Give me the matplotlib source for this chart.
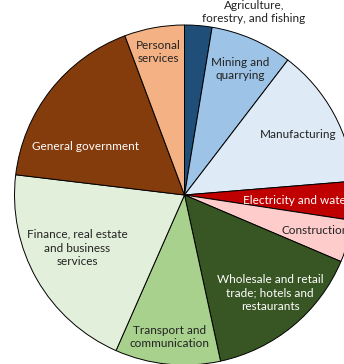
import matplotlib.pyplot as plt

sectors = ['Agriculture,\nforestry, and fishing', 'Mining and\nquarrying', 'Manufacturing',
           'Electricity and water', 'Construction',
           'Wholesale and retail\ntrade; hotels and\nrestaurants',
           'Transport and\ncommunication', 'Finance, real estate\nand business\nservices',
           'General government', 'Personal\nservices']
shares = [2.6, 7.8, 13.3, 3.7, 4.0, 15.2, 10.0, 20.3, 17.4, 5.7]

colors = ['#1F4E79', '#9DC3E6', '#DEEBF7', '#C00000', '#FFCCCC',
          '#375623', '#A9D18E', '#E2EFDA', '#843C0C', '#F4B183']
text_colors = ['#222222', '#222222', '#222222', 'white', '#222222',
               'white', '#222222', '#222222', 'white', '#222222']
# label centres in pixel coords (x, y from top)
label_pos = [(254, 12), (240, 69), (298, 134), (297, 200), (315, 230),
             (270, 293), (170, 337), (77, 248), (85, 147), (158, 52)]

W, H = 344, 364
fig = plt.figure(figsize=(W / 100, H / 100), dpi=100)
ax = fig.add_axes([0, 0, 1, 1])
ax.pie(shares, colors=colors, startangle=90, counterclock=False,
       radius=170, center=(184.5, H - 195),
       wedgeprops=dict(edgecolor='black', linewidth=0.7))
ax.set_xlim(0, W)
ax.set_ylim(0, H)
ax.set_aspect('equal')
ax.axis('off')

for name, (x, y), c in zip(sectors, label_pos, text_colors):
    ax.text(x, H - y, name, ha='center', va='center', color=c,
            fontsize=8.5, family='Lato', linespacing=1.3)

fig.savefig('out.png', dpi=100)
